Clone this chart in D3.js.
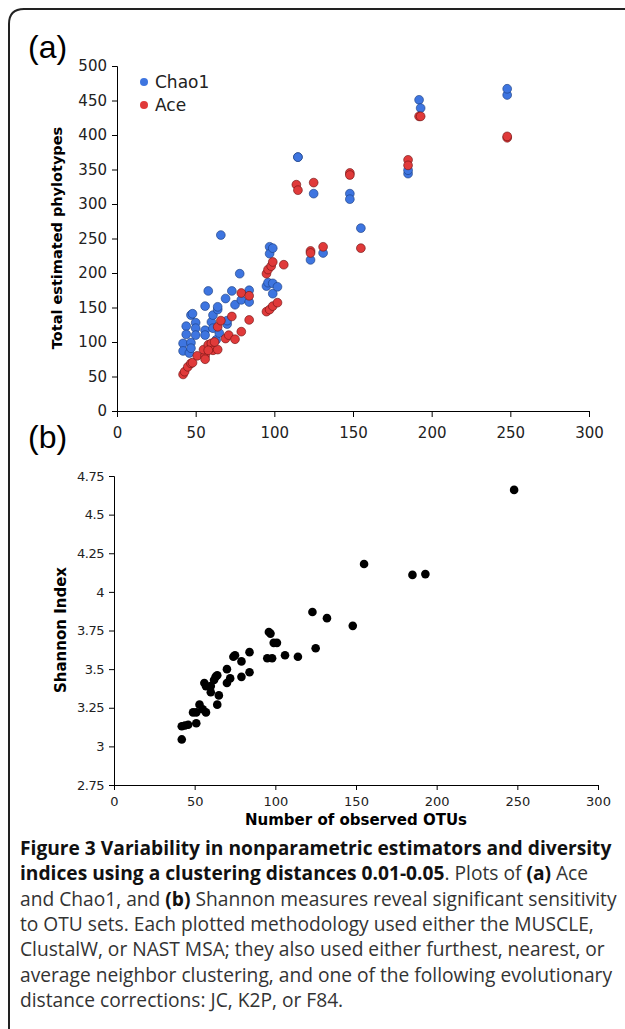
<!DOCTYPE html>
<html>
<head>
<meta charset="utf-8">
<script src="https://cdn.jsdelivr.net/npm/d3@7"></script>
<style>
  body { margin: 0; background: #fff; }
  svg { display: block; }
</style>
</head>
<body>
<svg id="fig" width="625" height="1029"></svg>
<script>
// Panel (a): observed OTUs vs estimated phylotypes
const chaoX = [42,42,44,44,46,47,47,48,50,50,50,56,56,56,58,60,61,61,64,64,63,66,69,70,73,75,78,79,84,84,95,96,97,97,99,99,99,102,115,115,125,123,131,148,148,155,185,185,192,193,248,248,47,65,70];
const chaoY = [98,87,123,111,84,99,139,141,128,120,110,117,152,110,174,129,120,139,147,151,103,255,163,126,174,154,199,161,158,175,181,186,238,228,236,185,170,180,368,368,315,219,229,315,307,265,344,349,451,439,458,467,91,113,131];
const aceX = [42,43,45,47,48,51,56,55,56,58,60,61,64,64,66,69,71,73,75,79,79,84,84,95,97,99,102,95,96,98,99,106,114,115,125,123,123,131,148,148,155,185,185,192,193,248,248,58,62];
const aceY = [53,57,64,69,70,80,80,89,75,96,98,88,89,122,131,105,110,137,104,115,171,132,167,144,147,152,157,199,205,210,216,212,328,320,331,232,229,238,345,342,236,364,356,427,427,396,398,88,100];

// Panel (b): observed OTUs vs Shannon index
const shanX = [42,42,44,46,49,51,51,53,55,57,56,57,60,60,62,63,64,64,65,70,70,72,74,75,79,79,84,84,95,96,97,98,99,101,106,114,123,125,132,148,155,185,193,248];
const shanY = [3.045,3.13,3.135,3.14,3.22,3.15,3.22,3.27,3.24,3.22,3.41,3.39,3.35,3.39,3.43,3.45,3.46,3.27,3.33,3.50,3.41,3.44,3.58,3.59,3.55,3.45,3.61,3.48,3.57,3.74,3.73,3.57,3.67,3.67,3.59,3.58,3.87,3.635,3.83,3.78,4.18,4.11,4.115,4.66];

const xTicks = [0,50,100,150,200,250,300];
const aTicks = [0,50,100,150,200,250,300,350,400,450,500];
const bTicks = [2.75,3,3.25,3.5,3.75,4,4.25,4.5,4.75];

const captionLines = [
  [["b","Figure 3 Variability in nonparametric estimators and diversity"]],
  [["b","indices using a clustering distances 0.01-0.05"],["n",". Plots of "],["b","(a)"],["n"," Ace"]],
  [["n","and Chao1, and "],["b","(b)"],["n"," Shannon measures reveal significant sensitivity"]],
  [["n","to OTU sets. Each plotted methodology used either the MUSCLE,"]],
  [["n","ClustalW, or NAST MSA; they also used either furthest, nearest, or"]],
  [["n","average neighbor clustering, and one of the following evolutionary"]],
  [["n","distance corrections: JC, K2P, or F84."]]
];

const svg = d3.select('#fig');
const tickFont = 'Verdana, "DejaVu Sans", sans-serif';

// frame
svg.append('path')
  .attr('d', 'M9,1040 L9,24 Q9,9 24,9 L640,9')
  .attr('fill', 'none').attr('stroke', '#222').attr('stroke-width', 2);

function styleAxis(g) {
  g.select('.domain').attr('stroke', '#000');
  g.selectAll('.tick line').attr('stroke', '#000');
  g.selectAll('text').attr('font-family', tickFont).attr('fill', '#222');
}

// ---- panel a
const xa = d3.scaleLinear().domain([0, 300]).range([117, 589]);
const ya = d3.scaleLinear().domain([0, 500]).range([411, 66]);

svg.append('g').attr('transform', 'translate(0,411)')
  .call(d3.axisBottom(xa).tickValues(xTicks).tickSize(6).tickPadding(10))
  .call(styleAxis).call(g => g.selectAll('text').attr('font-size', 15));
svg.append('g').attr('transform', 'translate(117,0)')
  .call(d3.axisLeft(ya).tickValues(aTicks).tickSize(5).tickPadding(5))
  .call(styleAxis).call(g => g.selectAll('text').attr('font-size', 15));

svg.append('text').attr('transform', 'translate(62,238) rotate(-90)')
  .attr('text-anchor', 'middle').attr('font-family', tickFont)
  .attr('font-weight', 'bold').attr('font-size', 14.5).text('Total estimated phylotypes');

svg.append('text').attr('x', 28).attr('y', 58).attr('font-family', 'Arial, "Liberation Sans", sans-serif')
  .attr('font-size', 32).text('(a)');

const pts = (x, y) => x.map((v, i) => [v, y[i]]);
svg.append('g').selectAll('circle').data(pts(chaoX, chaoY)).join('circle')
  .attr('cx', d => xa(d[0])).attr('cy', d => ya(d[1])).attr('r', 4.4)
  .attr('fill', '#3e75e0').attr('stroke', '#1a3a7a').attr('stroke-width', 0.6);
svg.append('g').selectAll('circle').data(pts(aceX, aceY)).join('circle')
  .attr('cx', d => xa(d[0])).attr('cy', d => ya(d[1])).attr('r', 4.4)
  .attr('fill', '#e03a3a').attr('stroke', '#6a1010').attr('stroke-width', 0.6);

// legend
[['Chao1', '#3e75e0', 82], ['Ace', '#e03a3a', 105]].forEach(([t, c, y]) => {
  svg.append('circle').attr('cx', 144).attr('cy', y).attr('r', 4).attr('fill', c);
  svg.append('text').attr('x', 155).attr('y', y + 6).attr('font-family', tickFont)
    .attr('font-size', 17).attr('fill', '#222').text(t);
});

// ---- panel b
svg.append('text').attr('x', 28).attr('y', 448).attr('font-family', 'Arial, "Liberation Sans", sans-serif')
  .attr('font-size', 32).text('(b)');

const xb = d3.scaleLinear().domain([0, 300]).range([114, 598]);
const yb = d3.scaleLinear().domain([2.75, 4.75]).range([785, 476]);

svg.append('g').attr('transform', 'translate(0,785)')
  .call(d3.axisBottom(xb).tickValues(xTicks).tickSize(5).tickPadding(7))
  .call(styleAxis).call(g => g.selectAll('text').attr('font-size', 13));
svg.append('g').attr('transform', 'translate(114,0)')
  .call(d3.axisLeft(yb).tickValues(bTicks).tickFormat(d3.format('')).tickSize(5).tickPadding(5))
  .call(styleAxis).call(g => g.selectAll('text').attr('font-size', 13).attr('letter-spacing', -0.5));

svg.append('text').attr('transform', 'translate(66,630) rotate(-90)')
  .attr('text-anchor', 'middle').attr('font-family', tickFont)
  .attr('font-weight', 'bold').attr('font-size', 15).text('Shannon Index');
svg.append('text').attr('x', 356).attr('y', 825).attr('text-anchor', 'middle')
  .attr('font-family', tickFont).attr('font-weight', 'bold').attr('font-size', 15)
  .text('Number of observed OTUs');

svg.append('g').selectAll('circle').data(pts(shanX, shanY)).join('circle')
  .attr('cx', d => xb(d[0])).attr('cy', d => yb(d[1])).attr('r', 4.3).attr('fill', '#000');

// ---- caption
const cap = svg.append('g').attr('font-family', '"Open Sans", sans-serif').attr('font-size', 19.2).attr('fill', '#111');
captionLines.forEach((line, i) => {
  const t = cap.append('text').attr('x', 20).attr('y', 855 + i * 25.3);
  line.forEach(([w, s]) => t.append('tspan')
    .attr('font-weight', w === 'b' ? 'bold' : 'normal')
    .attr('fill', w === 'b' ? '#111' : '#333').text(s));
});
</script>
</body>
</html>
